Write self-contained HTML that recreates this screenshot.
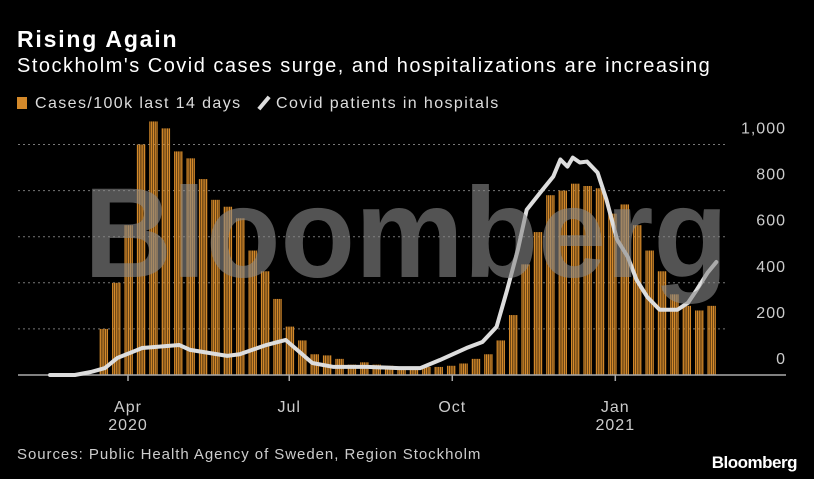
<!DOCTYPE html>
<html><head><meta charset="utf-8"><style>
html,body{margin:0;padding:0;background:#000;}
body{width:814px;height:479px;overflow:hidden;font-family:"Liberation Sans",sans-serif;color:#fff;position:relative}
.t{position:absolute;white-space:nowrap}
</style></head><body>
<div class="t" style="left:17px;top:26px;font-size:23px;font-weight:bold;letter-spacing:1.8px">Rising Again</div>
<div class="t" style="left:17px;top:55px;font-size:20px;letter-spacing:1.5px">Stockholm's Covid cases surge, and hospitalizations are increasing</div>
<div class="t" style="left:17px;top:95px;font-size:16px;color:#ddd;letter-spacing:1.4px"><span style="display:inline-block;width:10px;height:12px;background:#d4892a;margin-right:8px;vertical-align:-1px"></span>Cases/100k last 14 days</div>
<div class="t" style="left:258px;top:95px;font-size:16px;color:#ddd;letter-spacing:1.4px"><span style="display:inline-block;width:4px;height:16px;background:#ddd;transform:rotate(40deg);margin:0 10px 0 4px;vertical-align:-3px"></span>Covid patients in hospitals</div>
<svg width="814" height="479" style="position:absolute;left:0;top:0" id="svg"></svg>
<div class="t" style="left:17px;top:446px;font-size:15px;color:#ccc;letter-spacing:0.95px">Sources: Public Health Agency of Sweden, Region Stockholm</div>
<div class="t" style="right:17px;top:453px;font-size:17px;font-weight:bold;letter-spacing:-0.5px">Bloomberg</div>
<script>
// cases per 100k (14 days) — weekly values, weeks starting 2020-03-16 (day -16 rel. Apr 1)
const caseWeeks = [200,400,650,1000,1100,1070,970,940,850,760,730,680,540,450,330,210,150,90,85,70,45,55,45,40,35,35,35,35,40,50,70,90,150,260,480,620,780,800,830,820,810,700,740,650,540,450,350,300,280,300];
const caseStartDay = -16;
// hospital patients: day offset from 2020-04-01, value
const hospDays = [-44,-30,-21,-13,-6,8,29,35,56,63,78,89,104,116,135,153,165,176,191,200,208,214,220,225,234,240,244,248,251,255,259,265,270,276,282,287,293,300,310,316,321,327,332];
const hospVals = [0,0,13,30,74,117,130,109,83,90,130,152,52,35,35,30,30,65,117,143,209,370,543,717,804,861,935,904,943,922,926,878,761,587,513,413,339,283,283,313,370,443,490];
const yTicks = [0,200,400,600,800,1000];
const yTickLabels = ["0","200","400","600","800","1,000"];
const xTickDays = [0,91,183,275];
const xTickLabels = ["Apr","Jul","Oct","Jan"];
const xYearLabels = ["2020","","","2021"];

const NS="http://www.w3.org/2000/svg", svg=document.getElementById('svg');
const X=d=>128+d*1.772, Y=v=>375-v*0.2305;
function mk(tag,at){const e=document.createElementNS(NS,tag);for(const k in at)e.setAttribute(k,at[k]);svg.appendChild(e);return e;}
yTicks.forEach((v,i)=>{
  if(v>0){const g=mk('line',{x1:18,x2:728,y1:Y(v),y2:Y(v),stroke:'#777','stroke-width':1,'stroke-dasharray':'2,3'});
  
  }
  const t=mk('text',{x:786,y:Y(v)-11,'text-anchor':'end',fill:'#ccc','font-size':16,'letter-spacing':1,'font-family':'Liberation Sans, sans-serif'});
  t.textContent=yTickLabels[i];
  
  
});
caseWeeks.forEach((v,w)=>{
  for(let d=0;d<5;d++){
    const day=caseStartDay+w*7+d;
    const b=mk('rect',{x:X(day),y:Y(v),width:1.3,height:375-Y(v),fill:'#d4892a'});
    
    
  }
});
const ax=mk('line',{x1:18,x2:786,y1:375,y2:375,stroke:'#aaa','stroke-width':1.5});


xTickDays.forEach((d,i)=>{
  const tk=mk('line',{x1:X(d),x2:X(d),y1:375,y2:381,stroke:'#aaa','stroke-width':1.5});
  
  
  const t=mk('text',{x:X(d),y:412,'text-anchor':'middle',fill:'#ccc','font-size':16,'letter-spacing':1,'font-family':'Liberation Sans, sans-serif'});
  t.textContent=xTickLabels[i];
  
  
  if(xYearLabels[i]){const y=mk('text',{x:X(d),y:430,'text-anchor':'middle',fill:'#ccc','font-size':16,'letter-spacing':1,'font-family':'Liberation Sans, sans-serif'});
  y.textContent=xYearLabels[i];
  
  }
});
const p=mk('polyline',{points:hospDays.map((d,i)=>X(d)+','+Y(hospVals[i])).join(' '),fill:'none',stroke:'#ddd','stroke-width':4,'stroke-linejoin':'round','stroke-linecap':'round'});


const wm=mk('text',{x:84,y:277,fill:'#8a8a8a','fill-opacity':0.6,'font-size':128,'font-weight':'bold','font-family':'Liberation Sans, sans-serif',textLength:644,lengthAdjust:'spacingAndGlyphs'});
wm.textContent='Bloomberg';


</script>
</body></html>
